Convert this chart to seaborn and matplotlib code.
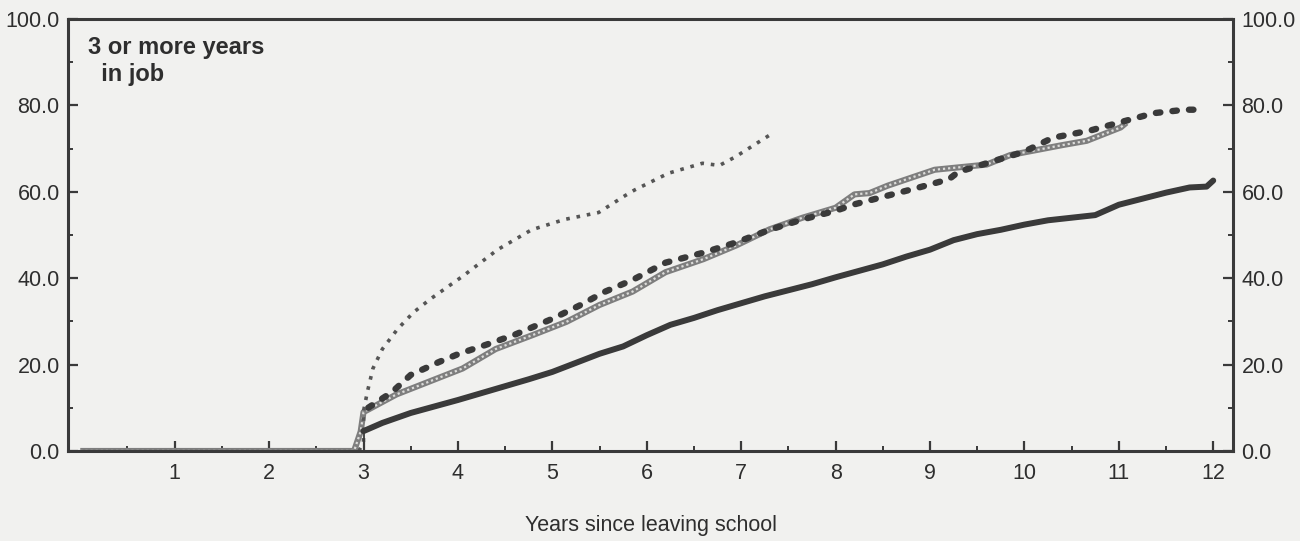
import matplotlib
matplotlib.use("Agg")
import matplotlib.pyplot as plt
from matplotlib.ticker import FixedLocator, FormatStrFormatter
import pandas as pd
import seaborn as sns

# Cumulative share (%) reaching 3 or more years in the job, by years since leaving school
solid_years = [3.0, 3.0, 3.2, 3.5, 3.75, 4.0, 4.25, 4.5, 4.75, 5.0, 5.25, 5.5, 5.75,
               6.0, 6.25, 6.5, 6.75, 7.0, 7.25, 7.5, 7.75, 8.0, 8.25, 8.5, 8.75,
               9.0, 9.25, 9.5, 9.75, 10.0, 10.25, 10.5, 10.75, 11.0, 11.25, 11.5,
               11.75, 11.93, 12.0]
solid_pct = [0.0, 4.6, 6.5, 8.8, 10.3, 11.8, 13.4, 15.0, 16.6, 18.3, 20.4, 22.5, 24.2,
             26.8, 29.2, 30.8, 32.6, 34.2, 35.8, 37.2, 38.6, 40.2, 41.7, 43.2, 45.0,
             46.6, 48.8, 50.2, 51.2, 52.4, 53.4, 54.0, 54.6, 57.0, 58.4, 59.8,
             61.0, 61.2, 62.6]

dashed_years = [3.05, 3.3, 3.5, 3.8, 4.0, 4.3, 4.6, 5.0, 5.3, 5.55, 5.85, 6.2, 6.6,
                6.95, 7.3, 7.65, 8.0, 8.2, 8.55, 8.9, 9.2, 9.3, 9.6, 10.0, 10.3,
                10.7, 11.0, 11.37, 11.7, 11.83]
dashed_pct = [10.0, 13.6, 17.6, 20.6, 22.4, 24.6, 26.9, 30.6, 33.8, 36.8, 39.6, 43.6,
              45.9, 48.3, 51.2, 53.6, 55.6, 57.1, 59.1, 61.1, 62.9, 64.6, 66.6, 69.3,
              72.5, 74.2, 76.0, 78.2, 79.0, 79.0]

checker_years = [0.0, 2.9, 2.97, 3.0, 3.35, 3.7, 4.05, 4.4, 4.8, 5.15, 5.5, 5.85, 6.2,
                 6.6, 6.95, 7.3, 7.65, 8.0, 8.2, 8.36, 8.55, 9.05, 9.6, 9.85, 10.4,
                 10.66, 11.02, 11.08]
checker_pct = [0.0, 0.0, 4.5, 9.0, 13.1, 16.1, 19.1, 23.6, 26.9, 29.9, 33.8, 36.9, 41.4,
               44.4, 47.6, 51.3, 54.0, 56.3, 59.4, 59.7, 61.4, 65.1, 66.3, 68.5, 70.8,
               71.8, 74.9, 76.0]

sparse_years = [2.95, 3.0, 3.0, 3.04, 3.1, 3.2, 3.36, 3.53, 3.71, 4.06, 4.42, 4.78,
                5.13, 5.49, 5.77, 5.87, 6.23, 6.59, 6.77, 6.94, 7.3]
sparse_pct = [0.0, 2.0, 9.2, 13.6, 19.1, 23.6, 28.2, 32.1, 35.2, 40.6, 46.6, 51.2,
              53.6, 55.2, 59.1, 60.4, 64.3, 66.6, 66.1, 68.1, 73.1]

x_ticks = list(range(1, 13))
y_ticks = [0, 20, 40, 60, 80, 100]

paper = "#f1f1ef"
ink = "#3a3a3a"

sns.set_theme(style="white")
plt.rcParams["font.family"] = ["Liberation Sans", "DejaVu Sans"]

fig = plt.figure(figsize=(13, 5.41), dpi=100, facecolor=paper)
ax = fig.add_axes([0.0523, 0.1664, 0.8962, 0.7985], facecolor=paper)

solid = pd.DataFrame({"years": solid_years, "pct": solid_pct})
dashed = pd.DataFrame({"years": dashed_years, "pct": dashed_pct})
checker = pd.DataFrame({"years": checker_years, "pct": checker_pct})
sparse = pd.DataFrame({"years": sparse_years, "pct": sparse_pct})

common = dict(x="years", y="pct", estimator=None, sort=False, ax=ax, legend=False)

# checkered band: grey base with a light dotted core
sns.lineplot(data=checker, color="#7e7e7e", linewidth=4.4, solid_capstyle="butt", **common)
sns.lineplot(data=checker, color="#dcdcda", linewidth=1.6,
             linestyle=(0, (1.0, 1.3)), **common)
# heavy dashes
sns.lineplot(data=dashed, color=ink, linewidth=4.6, linestyle=(0, (0.7, 1.9)),
             dash_capstyle="round", **common)
# sparse crosses
sns.lineplot(data=sparse, color="#555555", linewidth=2.6, linestyle=(0, (1.0, 1.9)),
             **common)
# solid line
sns.lineplot(data=solid[solid["pct"] > 0], color=ink, linewidth=4.3,
             solid_capstyle="round", **common)
sns.lineplot(data=solid.iloc[:2], color=ink, linewidth=1.3, **common)

ax.set_xlim(-0.13, 12.21)
ax.set_ylim(0, 100)

ax.xaxis.set_major_locator(FixedLocator(x_ticks))
ax.xaxis.set_minor_locator(FixedLocator([t - 0.5 for t in x_ticks]))
ax.yaxis.set_major_locator(FixedLocator(y_ticks))
ax.yaxis.set_minor_locator(FixedLocator([t + 10 for t in y_ticks[:-1]]))
ax.yaxis.set_major_formatter(FormatStrFormatter("%.1f"))

ax.tick_params(axis="both", which="both", direction="in", color=ink,
               labelcolor="#2e2e2e", labelsize=15.5)
ax.tick_params(axis="both", which="major", length=7, width=1.6)
ax.tick_params(axis="both", which="minor", length=3.5, width=1.4)
ax.tick_params(axis="y", which="both", left=True, right=True,
               labelleft=True, labelright=True)
ax.tick_params(axis="y", which="major", pad=6)
ax.tick_params(axis="x", which="both", bottom=True, top=False)
ax.tick_params(axis="x", which="major", pad=9)

for side in ["left", "right", "top", "bottom"]:
    ax.spines[side].set_visible(True)
    ax.spines[side].set_color(ink)
    ax.spines[side].set_linewidth(2.2)

ax.set_xlabel("Years since leaving school", fontsize=15.5, color="#2e2e2e", labelpad=22)
ax.set_ylabel("")

ax.text(0.08, 96, "3 or more years\n  in job", fontsize=17, fontweight="bold",
        color="#2e2e2e", va="top", ha="left", linespacing=1.2)

fig.savefig("out.png", dpi=100, facecolor=paper)
